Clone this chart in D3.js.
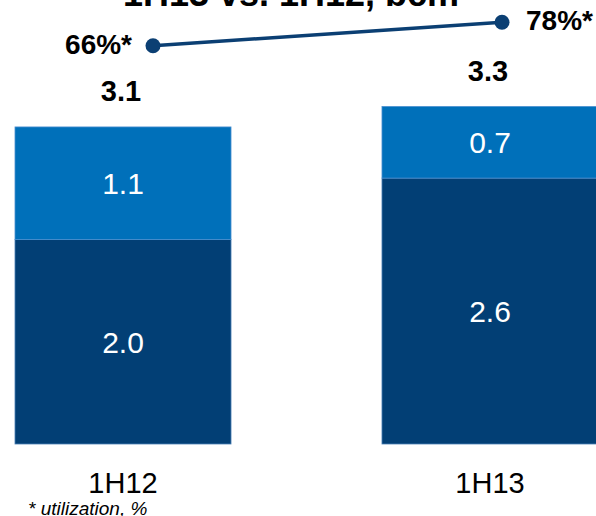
<!DOCTYPE html>
<html>
<head>
<meta charset="utf-8">
<script src="https://cdn.jsdelivr.net/npm/d3@7"></script>
<style>
  body { margin: 0; background: #fff; }
  svg { display: block; font-family: Arial, "Liberation Sans", sans-serif; }
</style>
</head>
<body>
<div id="chart"></div>
<script>
// data
var periods = ["1H12", "1H13"];
var baseValues = [2.0, 2.6];   // dark segment
var topValues = [1.1, 0.7];    // light segment
var totals = [3.1, 3.3];
var utilization = [66, 78];    // %, line

var width = 596, height = 516;

var svg = d3.select("#chart")
    .append("svg")
    .attr("width", width)
    .attr("height", height);

var x = d3.scaleBand()
    .domain(periods)
    .range([15, 598])
    .paddingInner(0.4114)
    .paddingOuter(0);

var y = d3.scaleLinear()
    .domain([0, 3.3])
    .range([444, 106.5]);

// utilization line uses its own scales
var xu = d3.scalePoint()
    .domain(periods)
    .range([153, 502]);

var yu = d3.scaleLinear()
    .domain([0, 100])
    .range([174.4, -20.6]);

var darkBlue = "#023f75",
    lightBlue = "#0070ba";

var stack = periods.map(function (p, i) {
    return { period: p, base: baseValues[i], top: topValues[i], total: totals[i] };
});

// title (mostly off the top edge)
svg.append("text")
    .attr("x", 291)
    .attr("y", 6)
    .attr("text-anchor", "middle")
    .style("font-size", "36px")
    .style("font-weight", "bold")
    .attr("fill", "#000")
    .text("1H13 vs. 1H12, bcm");

var bar = svg.selectAll(".bar")
    .data(stack)
    .enter().append("g")
    .attr("class", "bar");

bar.append("rect")
    .attr("x", function (d) { return x(d.period); })
    .attr("width", x.bandwidth())
    .attr("y", function (d) { return y(d.base); })
    .attr("height", function (d) { return y(0) - y(d.base); })
    .attr("fill", darkBlue)
    .attr("stroke", "#4a7fb5")
    .attr("stroke-width", 0.8);

bar.append("rect")
    .attr("x", function (d) { return x(d.period); })
    .attr("width", x.bandwidth())
    .attr("y", function (d) { return y(d.base + d.top); })
    .attr("height", function (d) { return y(d.base) - y(d.base + d.top); })
    .attr("fill", lightBlue)
    .attr("stroke", "#4a8fd0")
    .attr("stroke-width", 0.8);

// segment labels
bar.append("text")
    .attr("x", function (d) { return x(d.period) + x.bandwidth() / 2; })
    .attr("y", function (d) { return (y(0) + y(d.base)) / 2; })
    .attr("dy", "0.36em")
    .attr("text-anchor", "middle")
    .attr("fill", "#fff")
    .style("font-size", "30px")
    .text(function (d) { return d.base.toFixed(1); });

bar.append("text")
    .attr("x", function (d) { return x(d.period) + x.bandwidth() / 2; })
    .attr("y", function (d) { return (y(d.base) + y(d.base + d.top)) / 2; })
    .attr("dy", "0.36em")
    .attr("text-anchor", "middle")
    .attr("fill", "#fff")
    .style("font-size", "30px")
    .text(function (d) { return d.top.toFixed(1); });

// totals
bar.append("text")
    .attr("x", function (d) { return x(d.period) + x.bandwidth() / 2 - 2; })
    .attr("y", function (d) { return y(d.total) - 26; })
    .attr("text-anchor", "middle")
    .attr("fill", "#000")
    .style("font-size", "29px")
    .style("font-weight", "bold")
    .text(function (d) { return d.total.toFixed(1); });

// category labels
bar.append("text")
    .attr("x", function (d) { return x(d.period) + x.bandwidth() / 2; })
    .attr("y", 493)
    .attr("text-anchor", "middle")
    .attr("fill", "#000")
    .style("font-size", "29px")
    .text(function (d) { return d.period; });

// utilization line
var line = d3.line()
    .x(function (d, i) { return xu(periods[i]); })
    .y(function (d) { return yu(d); });

svg.append("path")
    .datum(utilization)
    .attr("d", line)
    .attr("fill", "none")
    .attr("stroke", "#0b3f73")
    .attr("stroke-width", 3.5);

svg.selectAll(".dot")
    .data(utilization)
    .enter().append("circle")
    .attr("class", "dot")
    .attr("cx", function (d, i) { return xu(periods[i]); })
    .attr("cy", function (d) { return yu(d); })
    .attr("r", 7.5)
    .attr("fill", "#0b3f73");

svg.selectAll(".util-label")
    .data(utilization)
    .enter().append("text")
    .attr("class", "util-label")
    .attr("x", function (d, i) { return xu(periods[i]) + (i === 0 ? -21 : 24); })
    .attr("y", function (d) { return yu(d) + 8; })
    .attr("text-anchor", function (d, i) { return i === 0 ? "end" : "start"; })
    .attr("fill", "#000")
    .style("font-size", "28px")
    .style("font-weight", "bold")
    .text(function (d) { return d + "%*"; });

// footnote
svg.append("text")
    .attr("x", 28)
    .attr("y", 515)
    .attr("fill", "#000")
    .style("font-size", "19px")
    .style("font-style", "italic")
    .text("* utilization, %");
</script>
</body>
</html>
